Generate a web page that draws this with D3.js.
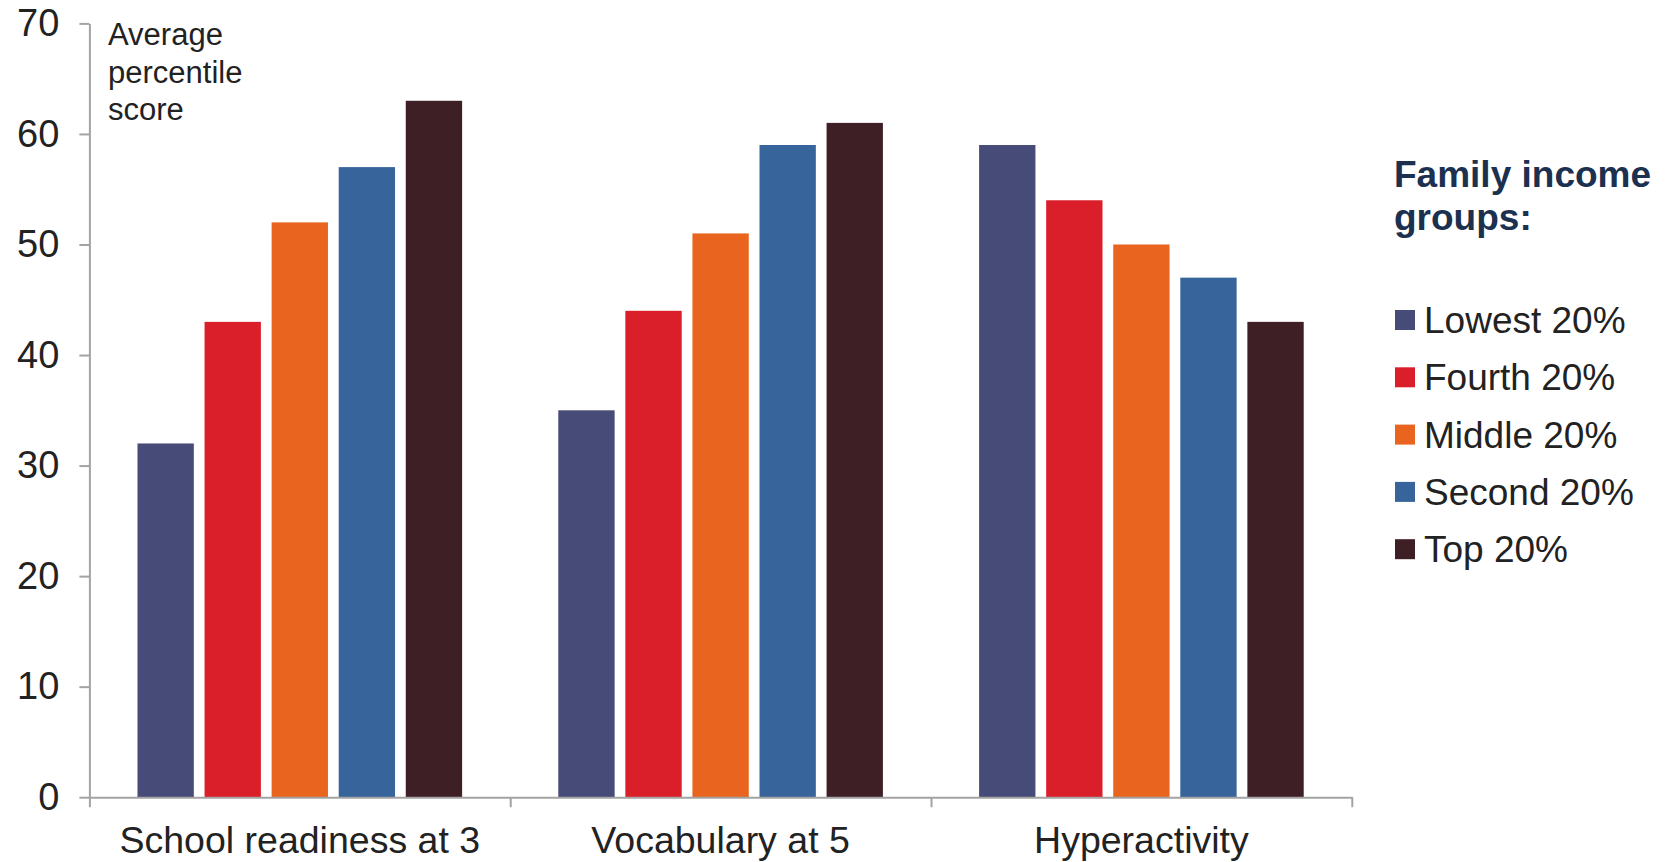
<!DOCTYPE html>
<html>
<head>
<meta charset="utf-8">
<script src="https://cdn.jsdelivr.net/npm/d3@7"></script>
<style>
  html, body { margin: 0; padding: 0; background: #fff; }
  svg { display: block; font-family: "Liberation Sans", Arial, sans-serif; }
</style>
</head>
<body>
<svg id="chart" width="1669" height="862"></svg>
<script>
const categories = ["School readiness at 3", "Vocabulary at 5", "Hyperactivity"];
const seriesNames = ["Lowest 20%", "Fourth 20%", "Middle 20%", "Second 20%", "Top 20%"];
const seriesColors = ["#474b77", "#da1f2a", "#e9651f", "#38649c", "#3e1f26"];
const lowest = [32, 35, 59];
const fourth = [43, 44, 54];
const middle = [52, 51, 50];
const second = [57, 59, 47];
const top20 = [63, 61, 43];
const yTicks = [0, 10, 20, 30, 40, 50, 60, 70];
const yLabelLines = ["Average", "percentile", "score"];
const legendTitleLines = ["Family income", "groups:"];

const seriesValues = [lowest, fourth, middle, second, top20];

const svg = d3.select("#chart");
const textColor = "#222222";
const axisColor = "#a3a3a3";

const left = 89.4, right = 1351.8, yTop = 23.4, yBottom = 797.2;

const y = d3.scaleLinear().domain([0, 70]).range([yBottom, yTop]);
const x0 = d3.scaleBand().domain(categories).range([left, right]).padding(0);
const x1 = d3.scaleBand().domain(seriesNames).range([0, x0.bandwidth()])
  .paddingInner(0.16).paddingOuter(0.717);

// bars
const groups = svg.append("g").selectAll("g")
  .data(categories)
  .join("g")
  .attr("transform", d => `translate(${x0(d)},0)`);

groups.selectAll("rect")
  .data((c, ci) => seriesNames.map((s, si) => ({ s, si, v: seriesValues[si][ci] })))
  .join("rect")
  .attr("x", d => x1(d.s))
  .attr("width", x1.bandwidth())
  .attr("y", d => y(d.v))
  .attr("height", d => y(0) - y(d.v))
  .attr("fill", d => seriesColors[d.si]);

// y axis
const yAxis = svg.append("g")
  .attr("transform", `translate(${left},0)`)
  .call(d3.axisLeft(y).tickValues(yTicks).tickSize(10).tickSizeOuter(0).tickPadding(20));
yAxis.select(".domain").attr("stroke", axisColor).attr("stroke-width", 2);
yAxis.selectAll(".tick line").attr("stroke", axisColor).attr("stroke-width", 2);
yAxis.selectAll(".tick text")
  .attr("fill", textColor)
  .style("font-size", "38px")
  .style("font-family", "'Liberation Sans', Arial, sans-serif");

// x axis boundaries
const xb = d3.scaleLinear().domain([0, categories.length]).range([left, right]);
const xAxis = svg.append("g")
  .attr("transform", `translate(0,${yBottom})`)
  .call(d3.axisBottom(xb).tickValues(d3.range(categories.length + 1)).tickSize(10).tickSizeOuter(0).tickFormat(""));
xAxis.select(".domain").attr("stroke", axisColor).attr("stroke-width", 2);
xAxis.selectAll(".tick line").attr("stroke", axisColor).attr("stroke-width", 2);

// category labels
svg.append("g").selectAll("text")
  .data(categories)
  .join("text")
  .attr("x", d => x0(d) + x0.bandwidth() / 2)
  .attr("y", 853)
  .attr("text-anchor", "middle")
  .attr("fill", textColor)
  .style("font-size", "37.5px")
  .text(d => d);

// y label
svg.append("text")
  .attr("x", 108)
  .attr("y", 45)
  .attr("fill", textColor)
  .style("font-size", "31px")
  .selectAll("tspan")
  .data(yLabelLines)
  .join("tspan")
  .attr("x", 108)
  .attr("dy", (d, i) => i === 0 ? 0 : 37.5)
  .text(d => d);

// legend
const legend = svg.append("g");
legend.append("text")
  .attr("x", 1394)
  .attr("y", 187)
  .attr("fill", "#1c3050")
  .style("font-size", "37px")
  .style("font-weight", "bold")
  .selectAll("tspan")
  .data(legendTitleLines)
  .join("tspan")
  .attr("x", 1394)
  .attr("dy", (d, i) => i === 0 ? 0 : 43)
  .text(d => d);

const items = legend.selectAll("g.item")
  .data(seriesNames)
  .join("g")
  .attr("class", "item")
  .attr("transform", (d, i) => `translate(1395,${310 + i * 57.3})`);
items.append("rect")
  .attr("width", 20).attr("height", 20)
  .attr("fill", (d, i) => seriesColors[i]);
items.append("text")
  .attr("x", 29)
  .attr("y", 23)
  .attr("fill", textColor)
  .style("font-size", "37px")
  .text(d => d);
</script>
</body>
</html>
